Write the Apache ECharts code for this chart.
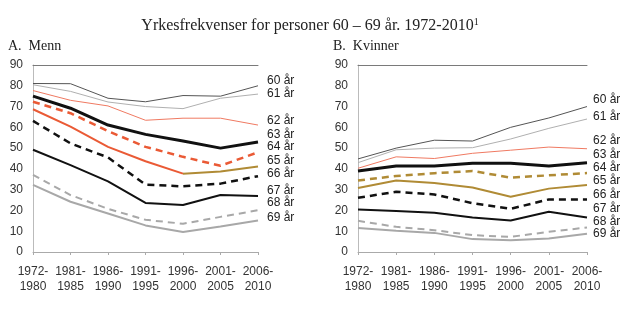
<!DOCTYPE html>
<html><head><meta charset="utf-8">
<script src="https://cdn.jsdelivr.net/npm/echarts@6/dist/echarts.min.js"></script>
<style>html,body{margin:0;padding:0;background:#fff}#c{width:620px;height:326px}</style>
</head><body><div id="c"></div>
<script>
const categories = ['1972-\n1980','1981-\n1985','1986-\n1990','1991-\n1995','1996-\n2000','2001-\n2005','2006-\n2010'];
const ageLabels = ['60 år','61 år','62 år','63 år','64 år','65 år','66 år','67 år','68 år','69 år'];
// Menn
const m60 = [81.1, 81.0, 74.0, 72.3, 75.3, 75.0, 80.0];
const m61 = [80.5, 77.3, 72.2, 70.0, 69.0, 74.0, 76.0];
const m62 = [77.7, 73.0, 70.3, 63.4, 64.4, 64.4, 61.1];
const m63 = [75.0, 69.2, 61.1, 56.6, 53.4, 50.0, 52.9];
const m64 = [72.3, 66.8, 58.2, 50.6, 45.8, 41.5, 48.0];
const m65 = [68.7, 60.3, 50.6, 43.7, 37.7, 38.7, 41.1];
const m66 = [63.1, 52.3, 45.5, 32.4, 31.6, 32.9, 36.5];
const m67 = [49.2, 41.8, 34.0, 23.6, 22.6, 27.4, 27.0];
const m68 = [37.1, 27.4, 20.8, 15.5, 13.6, 16.9, 20.1];
const m69 = [32.3, 24.2, 18.5, 12.8, 9.6, 12.3, 15.2];
// Kvinner
const k60 = [44.8, 50.0, 53.8, 53.4, 60.0, 64.5, 70.0];
const k61 = [43.0, 49.2, 50.0, 50.2, 54.4, 59.5, 64.0];
const k62 = [40.3, 45.8, 45.0, 47.5, 49.0, 50.5, 49.7];
const k63 = [39.0, 41.4, 41.4, 42.7, 42.7, 41.4, 43.0];
const k64 = [34.4, 36.6, 37.9, 39.0, 35.8, 36.9, 38.0];
const k65 = [30.8, 34.4, 33.2, 31.0, 26.6, 30.5, 32.3];
const k66 = [26.1, 29.0, 27.7, 23.5, 20.8, 25.3, 25.3];
const k67 = [20.5, 19.7, 18.9, 16.6, 15.2, 19.4, 16.6];
const k68 = [15.0, 12.1, 10.5, 8.1, 7.3, 9.7, 11.8];
const k69 = [11.5, 10.2, 9.2, 6.2, 5.7, 6.5, 8.8];
const yTicks = [0,10,20,30,40,50,60,70,80,90];

const RED = '#ea5a35', GOLD = '#b08b35', GRAY = '#a8a8a8';
const menStyles = [
  {color:'#555555', width:1, type:'solid'},
  {color:'#b0b0b0', width:1, type:'solid'},
  {color:'#f07a62', width:1, type:'solid'},
  {color:'#111111', width:3, type:'solid'},
  {color:RED, width:2.5, type:[7,5]},
  {color:RED, width:2, type:'solid'},
  {color:'#111111', width:2.5, type:[7,5]},
  {color:'#111111', width:2, type:'solid'},
  {color:GRAY, width:2, type:[7,5]},
  {color:GRAY, width:2, type:'solid'}
];
const womenStyles = menStyles.map((s,i)=> i===4 ? {color:GOLD,width:2.5,type:[7,5]} : i===5 ? {color:GOLD,width:2,type:'solid'} : s);
const menData = [m60,m61,m62,m63,m64,m65,m66,m67,m68,m69];
const womenData = [k60,k61,k62,k63,k64,k65,k66,k67,k68,k69];
// label layout (pixel positions of the right-side text labels)
const menLabelY = [82, 95, 122, 136, 148, 162, 175, 192, 204, 219];
const womenLabelY = [101, 118, 142, 156, 169, 182, 196, 210, 223, 235];

const font = 'Liberation Sans, Arial, sans-serif';
const serif = 'Liberation Serif, Times New Roman, serif';
const grids = [
  {left:33, right:362, top:65, bottom:74},
  {left:358, right:33, top:65, bottom:74}
];
const xAxes = [], yAxes = [], series = [];
[0,1].forEach(g=>{
  xAxes.push({type:'category', gridIndex:g, data:categories, boundaryGap:false,
    axisLine:{lineStyle:{color:'#aaa'}}, axisTick:{show:true, length:3, lineStyle:{color:'#aaa'}},
    axisLabel:{color:'#333', fontFamily:font, fontSize:12, margin:12, lineHeight:15, interval:0}});
  xAxes.push({type:'category', gridIndex:g, data:categories, position:'top', boundaryGap:false,
    axisLine:{lineStyle:{color:'#7a7a7a', width:1}}, axisTick:{show:false}, axisLabel:{show:false}});
  yAxes.push({type:'value', gridIndex:g, min:0, max:90, interval:10,
    axisLine:{show:true, lineStyle:{color:'#bbb'}}, axisTick:{show:false}, splitLine:{show:false},
    axisLabel:{color:'#333', fontFamily:font, fontSize:12, margin:10}});
});
function mkSeries(d, st, g, z){
  return {type:'line', xAxisIndex:g*2, yAxisIndex:g, data:d, symbol:'none', silent:true,
    lineStyle:{color:st.color, width:st.width, type:st.type}, z:z};
}
menData.forEach((d,i)=>{
  if (i === 5) {
    // Men 65 år: last segments drawn in gold as in the source
    series.push(mkSeries(d.map((v,j)=> j<=4 ? v : null), menStyles[i], 0, 10-i));
    series.push(mkSeries(d.map((v,j)=> j>=4 ? v : null), {color:GOLD, width:2, type:'solid'}, 0, 10-i));
  } else series.push(mkSeries(d, menStyles[i], 0, 10-i));
});
womenData.forEach((d,i)=> series.push(mkSeries(d, womenStyles[i], 1, 10-i)));

const graphic = [];
ageLabels.forEach((t,i)=>{
  graphic.push({type:'text', left:267, top:menLabelY[i]-7, style:{text:t, font:'12px '+font, fill:'#222'}});
  graphic.push({type:'text', left:593, top:womenLabelY[i]-7, style:{text:t, font:'12px '+font, fill:'#222'}});
});
graphic.push({type:'text', left:8, top:39, style:{text:'A.  Menn', font:'14px '+serif, fill:'#222'}});
graphic.push({type:'text', left:333, top:39, style:{text:'B.  Kvinner', font:'14px '+serif, fill:'#222'}});

const chart = echarts.init(document.getElementById('c'), null, {renderer:'canvas'});
chart.setOption({
  animation:false,
  backgroundColor:'#fff',
  title:{text:'{t|Yrkesfrekvenser for personer 60 – 69 år. 1972-2010}{s|1}', left:'center', top:12,
    textStyle:{fontWeight:'normal', rich:{t:{fontFamily:serif, fontSize:16, fontWeight:'normal', color:'#222'},
      s:{fontFamily:serif, fontSize:10, fontWeight:'normal', color:'#222', verticalAlign:'top', padding:[0,0,8,0]}}}},
  grid:grids, xAxis:xAxes, yAxis:yAxes, series:series, graphic:graphic
});
</script></body></html>
